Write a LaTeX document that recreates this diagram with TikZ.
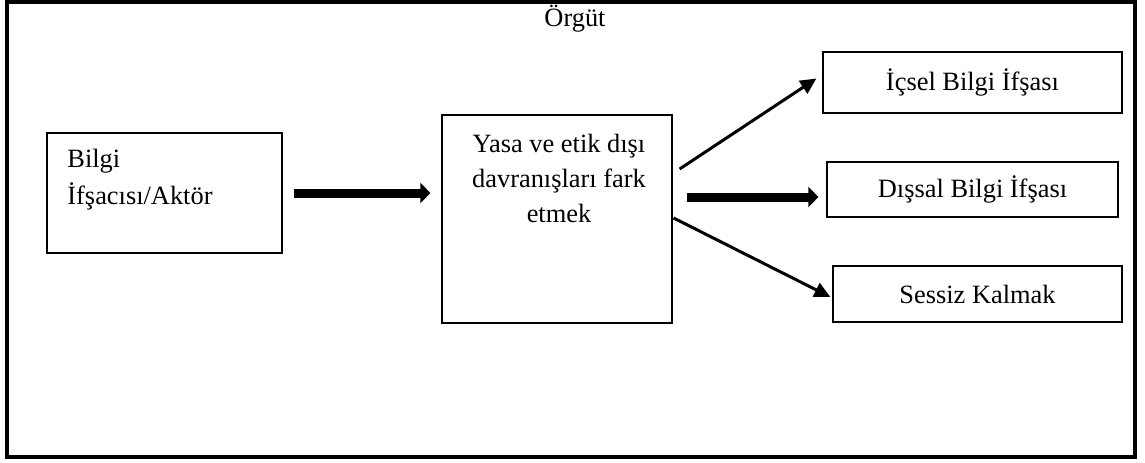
\documentclass[tikz,border=0pt]{standalone}
\usepackage{fontspec}
\setmainfont{Liberation Serif}
\usetikzlibrary{arrows.meta,calc}
\begin{document}
\begin{tikzpicture}[x=0.5pt,y=-0.5pt,
  every node/.style={font=\fontsize{13.2}{17.5}\selectfont},
  box/.style={draw, line width=0.6pt, rectangle, inner sep=0pt},
  thickarrow/.style={line width=4.5pt, -{Triangle[length=5pt,width=10pt]}},
  thinarrow/.style={line width=1.5pt, -{Triangle[length=8pt,width=7.5pt]}}]
  \useasboundingbox (0,0) rectangle (1145,462);
  % outer frame
  \draw[line width=2pt] (7,2) rectangle (1135,457);
  \node (title) at (575,19) {Örgüt};
  % boxes
  \node[box, minimum width=117.5pt, minimum height=60pt] (actor) at (164.5,193) {};
  \node[anchor=north west, align=left, inner sep=0pt,
        font=\fontsize{13.2}{18.5}\selectfont] (actortext) at (67,149)
    {Bilgi\\İfşacısı/Aktör};
  \node[box, minimum width=115pt, minimum height=104pt] (notice) at (557,219) {};
  \node[anchor=north, align=center, inner sep=0pt] (noticetext) at (559,134)
    {Yasa ve etik dışı\\davranışları fark\\etmek};
  \node[box, minimum width=149.5pt, minimum height=30.5pt] (internal) at (972.5,82.5) {İçsel Bilgi İfşası};
  \node[box, minimum width=145.5pt, minimum height=27.5pt] (external) at (972.5,189.5) {Dışsal Bilgi İfşası};
  \node[box, minimum width=144.5pt, minimum height=28pt] (silent) at (977.5,294) {Sessiz Kalmak};
  % arrow end points
  \coordinate (a1s) at ($(actor.east)+(11,0)$);
  \coordinate (a1e) at ($(notice.west)+(-11,-26)$);
  \coordinate (a2s) at ($(notice.east)+(7,-50)$);
  \coordinate (a2e) at ($(internal.west)+(-6,-4)$);
  \coordinate (a3s) at ($(notice.east)+(14,-22)$);
  \coordinate (a3e) at ($(external.west)+(-8,7.5)$);
  \coordinate (a4s) at ($(notice.east)+(1,-1)$);
  \coordinate (a4e) at ($(silent.west)+(-2,3)$);
  % connectors
  \draw[thickarrow] (a1s) -- (a1s -| a1e);
  \draw[thinarrow] (a2s) -- (a2e);
  \draw[thickarrow] (a3s) -- (a3e);
  \draw[thinarrow] (a4s) -- (a4e);
\end{tikzpicture}
\end{document}
